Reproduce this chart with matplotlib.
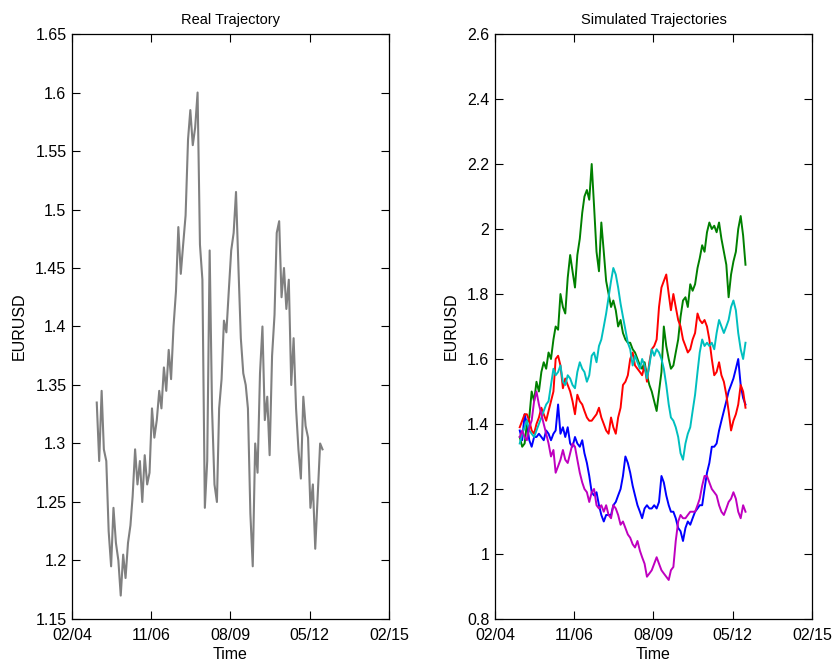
import matplotlib
matplotlib.use('Agg')
import matplotlib.pyplot as plt
import matplotlib.dates as mdates
from matplotlib.ticker import FuncFormatter
import numpy as np
import pandas as pd

plt.rcParams['font.family'] = ['Liberation Sans', 'DejaVu Sans']

# monthly readings, Dec 2004 .. Oct 2012
dates = pd.date_range('2004-12-01', periods=95, freq='MS') + pd.Timedelta(days=10)

real = [1.335, 1.285, 1.345, 1.295, 1.285, 1.225, 1.195, 1.245, 1.215, 1.200,
        1.170, 1.205, 1.185, 1.215, 1.230, 1.255, 1.295, 1.265, 1.285, 1.250,
        1.290, 1.265, 1.275, 1.330, 1.305, 1.320, 1.345, 1.330, 1.365, 1.345,
        1.380, 1.355, 1.400, 1.430, 1.485, 1.445, 1.470, 1.495, 1.560, 1.585,
        1.555, 1.570, 1.600, 1.470, 1.440, 1.245, 1.285, 1.465, 1.330, 1.265,
        1.250, 1.330, 1.355, 1.405, 1.395, 1.430, 1.465, 1.480, 1.515, 1.450,
        1.390, 1.360, 1.350, 1.330, 1.240, 1.195, 1.300, 1.275, 1.360, 1.400,
        1.320, 1.340, 1.290, 1.375, 1.410, 1.480, 1.490, 1.425, 1.450, 1.415,
        1.440, 1.350, 1.390, 1.330, 1.295, 1.270, 1.340, 1.315, 1.305, 1.245,
        1.265, 1.210, 1.255, 1.300, 1.295]

sim_blue = [1.38, 1.35, 1.43, 1.40, 1.35, 1.33, 1.36, 1.36, 1.37, 1.36,
            1.35, 1.38, 1.37, 1.35, 1.37, 1.38, 1.46, 1.37, 1.39, 1.36,
            1.39, 1.34, 1.33, 1.36, 1.34, 1.33, 1.35, 1.31, 1.28, 1.24,
            1.19, 1.18, 1.19, 1.15, 1.12, 1.10, 1.12, 1.12, 1.12, 1.15,
            1.16, 1.18, 1.20, 1.24, 1.30, 1.28, 1.25, 1.21, 1.18, 1.15,
            1.13, 1.11, 1.14, 1.15, 1.14, 1.14, 1.15, 1.14, 1.16, 1.24,
            1.22, 1.18, 1.15, 1.13, 1.13, 1.11, 1.08, 1.07, 1.04, 1.08,
            1.10, 1.09, 1.11, 1.13, 1.14, 1.15, 1.15, 1.20, 1.25, 1.28,
            1.33, 1.33, 1.34, 1.38, 1.41, 1.44, 1.47, 1.50, 1.52, 1.54,
            1.57, 1.60, 1.52, 1.48, 1.46]

sim_green = [1.36, 1.33, 1.34, 1.40, 1.42, 1.50, 1.47, 1.53, 1.50, 1.56,
             1.59, 1.57, 1.62, 1.60, 1.66, 1.70, 1.69, 1.80, 1.76, 1.74,
             1.85, 1.92, 1.87, 1.82, 1.92, 1.97, 2.05, 2.10, 2.12, 2.09,
             2.20, 2.07, 1.93, 1.87, 2.02, 1.93, 1.84, 1.80, 1.76, 1.78,
             1.75, 1.70, 1.72, 1.68, 1.66, 1.65, 1.65, 1.63, 1.62, 1.60,
             1.58, 1.57, 1.59, 1.55, 1.52, 1.50, 1.47, 1.44, 1.50, 1.56,
             1.70, 1.64, 1.60, 1.57, 1.58, 1.62, 1.66, 1.73, 1.78, 1.79,
             1.76, 1.83, 1.81, 1.83, 1.88, 1.91, 1.95, 1.93, 1.99, 2.02,
             2.00, 2.01, 1.99, 2.02, 1.97, 1.93, 1.89, 1.79, 1.86, 1.90,
             1.93, 2.00, 2.04, 1.98, 1.89]

sim_red = [1.39, 1.41, 1.43, 1.43, 1.41, 1.38, 1.37, 1.40, 1.42, 1.45,
           1.43, 1.41, 1.44, 1.47, 1.50, 1.60, 1.61, 1.58, 1.51, 1.54,
           1.52, 1.50, 1.47, 1.43, 1.49, 1.47, 1.46, 1.44, 1.42, 1.41,
           1.41, 1.42, 1.43, 1.45, 1.42, 1.40, 1.38, 1.37, 1.42, 1.39,
           1.37, 1.42, 1.45, 1.52, 1.53, 1.55, 1.60, 1.62, 1.58, 1.57,
           1.56, 1.55, 1.58, 1.53, 1.59, 1.63, 1.64, 1.66, 1.76, 1.82,
           1.84, 1.86, 1.80, 1.75, 1.80, 1.76, 1.72, 1.70, 1.66, 1.64,
           1.62, 1.63, 1.66, 1.68, 1.74, 1.72, 1.71, 1.72, 1.70, 1.66,
           1.60, 1.55, 1.56, 1.59, 1.55, 1.53, 1.49, 1.44, 1.38, 1.41,
           1.43, 1.46, 1.52, 1.50, 1.45]

sim_cyan = [1.34, 1.37, 1.39, 1.41, 1.38, 1.37, 1.36, 1.38, 1.40, 1.42,
            1.44, 1.46, 1.47, 1.52, 1.57, 1.55, 1.56, 1.58, 1.53, 1.52,
            1.55, 1.54, 1.52, 1.51, 1.56, 1.59, 1.57, 1.56, 1.53, 1.55,
            1.61, 1.62, 1.59, 1.64, 1.66, 1.70, 1.74, 1.79, 1.84, 1.88,
            1.86, 1.82, 1.77, 1.73, 1.69, 1.65, 1.63, 1.58, 1.61, 1.59,
            1.57, 1.60, 1.58, 1.54, 1.58, 1.63, 1.61, 1.63, 1.62, 1.60,
            1.57, 1.52, 1.46, 1.42, 1.41, 1.39, 1.36, 1.31, 1.29, 1.34,
            1.37, 1.39, 1.44, 1.49, 1.56, 1.62, 1.66, 1.64, 1.65, 1.64,
            1.65, 1.63, 1.68, 1.72, 1.70, 1.68, 1.70, 1.72, 1.76, 1.78,
            1.75, 1.68, 1.63, 1.60, 1.65]

sim_magenta = [1.36, 1.38, 1.36, 1.35, 1.39, 1.41, 1.47, 1.50, 1.46, 1.43,
               1.40, 1.37, 1.34, 1.30, 1.32, 1.25, 1.27, 1.29, 1.32, 1.29,
               1.28, 1.31, 1.34, 1.33, 1.29, 1.25, 1.22, 1.20, 1.19, 1.16,
               1.19, 1.20, 1.15, 1.14, 1.15, 1.13, 1.15, 1.12, 1.11, 1.15,
               1.14, 1.12, 1.09, 1.10, 1.08, 1.06, 1.05, 1.03, 1.02, 1.04,
               1.01, 0.99, 0.97, 0.93, 0.94, 0.95, 0.97, 0.99, 0.97, 0.95,
               0.94, 0.93, 0.92, 0.95, 0.96, 1.04, 1.10, 1.12, 1.11, 1.11,
               1.12, 1.13, 1.13, 1.13, 1.15, 1.17, 1.21, 1.24, 1.24, 1.22,
               1.20, 1.19, 1.18, 1.15, 1.13, 1.12, 1.14, 1.16, 1.17, 1.19,
               1.17, 1.13, 1.11, 1.15, 1.13]

sims = [(sim_blue, (0, 0, 1)), (sim_green, (0, 0.5, 0)), (sim_red, (1, 0, 0)),
        (sim_cyan, (0, 0.75, 0.75)), (sim_magenta, (0.75, 0, 0.75))]

x_start = pd.Timestamp('2004-02-01')
x_end = pd.Timestamp('2015-02-01')
tick_nums = np.linspace(mdates.date2num(x_start), mdates.date2num(x_end), 5)

fig = plt.figure(figsize=(8.33, 6.62), dpi=100)
ax1 = fig.add_axes([0.0864, 0.065, 0.3806, 0.8836])
ax2 = fig.add_axes([0.5942, 0.065, 0.3806, 0.8836])

ax1.plot(dates, real, color=(0.5, 0.5, 0.5), lw=1.5)
for vals, col in sims:
    ax2.plot(dates, vals, color=col, lw=1.4)

gfmt = FuncFormatter(lambda v, p: '%g' % round(v, 4))
for ax in (ax1, ax2):
    ax.set_xlim(x_start, x_end)
    ax.set_xticks(tick_nums)
    ax.xaxis.set_major_formatter(mdates.DateFormatter('%m/%y'))
    ax.yaxis.set_major_formatter(gfmt)
    ax.tick_params(direction='in', top=True, right=True, length=6,
                   labelsize=11.5, width=0.8)
    ax.tick_params(axis='x', pad=6.5)
    ax.tick_params(axis='y', pad=4)
    for s in ax.spines.values():
        s.set_linewidth(0.9)
    ax.set_xlabel('Time', fontsize=11.5, labelpad=3)
    ax.set_ylabel('EURUSD', fontsize=11.5, labelpad=6)

ax1.set_ylim(1.15, 1.65)
ax1.set_yticks(np.arange(1.15, 1.651, 0.05))
ax1.set_title('Real Trajectory', fontsize=10.5, pad=7)

ax2.set_ylim(0.8, 2.6)
ax2.set_yticks(np.arange(0.8, 2.61, 0.2))
ax2.set_title('Simulated Trajectories', fontsize=10.5, pad=7)

fig.savefig('out.png', dpi=100)
